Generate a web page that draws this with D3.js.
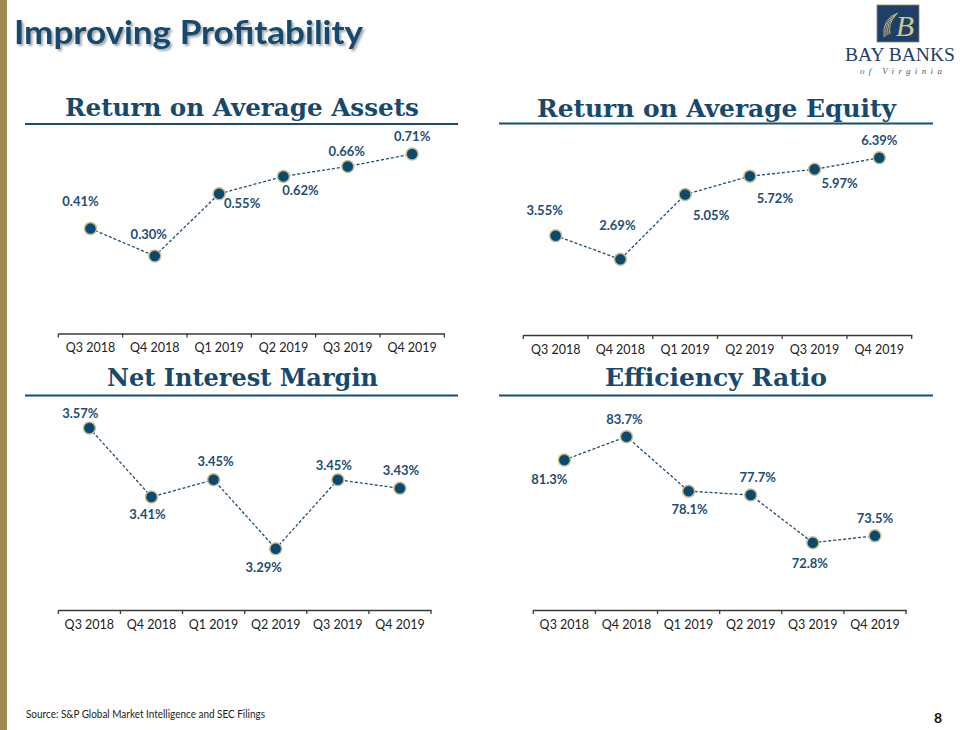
<!DOCTYPE html>
<html>
<head>
<meta charset="utf-8">
<script src="https://cdn.jsdelivr.net/npm/d3@7/dist/d3.min.js"></script>
<style>
  html, body { margin: 0; padding: 0; background: #fff; }
  svg { display: block; }
</style>
</head>
<body>
<svg id="chart" width="960" height="730"></svg>
<script>
// ---------- DATA ----------
const quarters = ["Q3 2018", "Q4 2018", "Q1 2019", "Q2 2019", "Q3 2019", "Q4 2019"];
const roaaValues = [0.41, 0.30, 0.55, 0.62, 0.66, 0.71];
const roaeValues = [3.55, 2.69, 5.05, 5.72, 5.97, 6.39];
const nimValues = [3.57, 3.41, 3.45, 3.29, 3.45, 3.43];
const efficiencyValues = [81.3, 83.7, 78.1, 77.7, 72.8, 73.5];
const panelTitles = ["Return on Average Assets", "Return on Average Equity", "Net Interest Margin", "Efficiency Ratio"];

// ---------- LAYOUT ----------
const C = {
  navy: "#0e4467",
  title: "#17496e",
  label: "#1d4e74",
  gold: "#9d8a4e",
  marker: "#0b4a6f",
  markerStroke: "#cbbd8f"
};

const panels = [
  { title: panelTitles[0], values: roaaValues, decimals: 2,
    x: [58.3, 444.3], axisY: 333.5, domain: [0, 0.8], range: [330.6, 131.6],
    titleX: [65, 419], titleY: 116, rule: [25, 458], ruleY: 124,
    offsets: [[-10,-28],[-6,-22],[23,9],[17,14],[-1,-15],[0,-18]] },
  { title: panelTitles[1], values: roaeValues, decimals: 2,
    x: [523.3, 911.7], axisY: 335, domain: [0, 7], range: [333.2, 141],
    titleX: [537, 896], titleY: 116.5, rule: [499, 933], ruleY: 123.5,
    offsets: [[-11,-26],[-3,-34],[26,20],[25,22],[25,14],[0,-18]] },
  { title: panelTitles[2], values: nimValues, decimals: 2,
    x: [58.3, 431], axisY: 610, domain: [3.15, 3.6], range: [609, 415.1],
    titleX: [107, 378], titleY: 386, rule: [25, 458], ruleY: 395.5,
    offsets: [[-9,-15],[-4,17],[2,-19],[-12,18],[-4,-15],[1,-18]] },
  { title: panelTitles[3], values: efficiencyValues, decimals: 1,
    x: [533.3, 906], axisY: 610, domain: [66, 86], range: [608.8, 414.3],
    titleX: [605, 827], titleY: 386, rule: [499, 933], ruleY: 395.5,
    offsets: [[-15,19],[-2,-18],[1,18],[7,-18],[-3,20],[0,-18]] }
];

const svg = d3.select("#chart");

// defs: drop shadow for main title
const defs = svg.append("defs");
const f = defs.append("filter").attr("id", "shadow").attr("x", "-5%").attr("y", "-20%").attr("width", "115%").attr("height", "160%");
f.append("feDropShadow").attr("dx", 2).attr("dy", 2).attr("stdDeviation", 1.2)
  .attr("flood-color", "#000").attr("flood-opacity", 0.35);

// left gold bar
svg.append("rect").attr("x", 0).attr("y", 0).attr("width", 7).attr("height", 730).attr("fill", C.gold);

// main title
svg.append("text")
  .attr("x", 14).attr("y", 44)
  .attr("font-family", "Lato, 'Open Sans', sans-serif")
  .attr("font-weight", 700).attr("font-size", 33)
  .attr("textLength", 349).attr("lengthAdjust", "spacingAndGlyphs")
  .attr("fill", C.title).attr("filter", "url(#shadow)")
  .text("Improving Profitability");

// logo
const logo = svg.append("g");
logo.append("rect").attr("x", 877).attr("y", 5).attr("width", 42).attr("height", 37)
  .attr("fill", "#1f3f66").attr("stroke", "#8e8466").attr("stroke-width", 0.8);
[0, 1, 2, 3].forEach(i => {
  logo.append("path")
    .attr("d", `M${884 + i * 2},${37 - i} Q${882 + i * 2},${18 + i * 2} ${898 - i},${13 + i}`)
    .attr("fill", "none").attr("stroke", "#c8b27a").attr("stroke-width", 1);
});
logo.append("text").attr("x", 905).attr("y", 36).attr("text-anchor", "middle")
  .attr("font-family", "'Liberation Serif', serif").attr("font-style", "italic")
  .attr("font-size", 30).attr("fill", "#d6c48f").text("B");
logo.append("text").attr("x", 845).attr("y", 61)
  .attr("font-family", "'Liberation Serif', serif").attr("font-size", 19.5)
  .attr("textLength", 110).attr("lengthAdjust", "spacingAndGlyphs")
  .attr("fill", "#1f3f66").text("BAY BANKS");
logo.append("text").attr("x", 860).attr("y", 74)
  .attr("font-family", "'Liberation Serif', serif").attr("font-style", "italic")
  .attr("font-size", 9).attr("textLength", 82).attr("lengthAdjust", "spacing")
  .attr("fill", "#4a5a70").text("of Virginia");

// panels
panels.forEach(p => {
  const g = svg.append("g");
  const xBand = d3.scaleBand().domain(quarters).range(p.x).padding(0);
  const y = d3.scaleLinear().domain(p.domain).range(p.range);

  // title
  g.append("text")
    .attr("x", p.titleX[0]).attr("y", p.titleY)
    .attr("font-family", "'DejaVu Serif', serif").attr("font-weight", 700).attr("font-size", 25)
    .attr("textLength", p.titleX[1] - p.titleX[0]).attr("lengthAdjust", "spacingAndGlyphs")
    .attr("fill", C.title).text(p.title);
  g.append("line")
    .attr("x1", p.rule[0]).attr("x2", p.rule[1]).attr("y1", p.ruleY).attr("y2", p.ruleY)
    .attr("stroke", "#1b4c6e").attr("stroke-width", 2.2);

  // x axis
  const axis = d3.axisBottom(xBand).tickSize(0).tickPadding(10);
  const ag = g.append("g").attr("transform", `translate(0,${p.axisY})`).call(axis);
  ag.select(".domain").attr("stroke", "#3a3a3a").attr("stroke-width", 1.3);
  ag.selectAll("text")
    .attr("font-family", "Lato, 'Open Sans', sans-serif").attr("font-size", 12.5)
    .attr("fill", "#222");
  const boundaries = d3.range(quarters.length + 1).map(i => p.x[0] + i * xBand.step());
  ag.selectAll("line.bt").data(boundaries).enter().append("line")
    .attr("class", "bt")
    .attr("x1", d => d).attr("x2", d => d).attr("y1", 0).attr("y2", 4)
    .attr("stroke", "#3a3a3a").attr("stroke-width", 1.3);

  const pts = p.values.map((v, i) => ({ q: quarters[i], v, i }));
  const cx = d => xBand(d.q) + xBand.bandwidth() / 2;

  // dashed line
  g.append("path").datum(pts)
    .attr("d", d3.line().x(cx).y(d => y(d.v)))
    .attr("fill", "none").attr("stroke", "#1f4e6e").attr("stroke-width", 1.3)
    .attr("stroke-dasharray", "3,2");

  // markers
  g.selectAll("circle.m").data(pts).enter().append("circle")
    .attr("class", "m")
    .attr("cx", cx).attr("cy", d => y(d.v)).attr("r", 6)
    .attr("fill", C.marker).attr("stroke", C.markerStroke).attr("stroke-width", 1.5);

  // labels
  g.selectAll("text.lbl").data(pts).enter().append("text")
    .attr("class", "lbl")
    .attr("x", d => cx(d) + p.offsets[d.i][0])
    .attr("y", d => y(d.v) + p.offsets[d.i][1])
    .attr("text-anchor", "middle").attr("dominant-baseline", "central")
    .attr("font-family", "Lato, 'Open Sans', sans-serif").attr("font-weight", 700)
    .attr("font-size", 13).attr("fill", C.label)
    .text(d => d.v.toFixed(p.decimals) + "%");
});

// footer
svg.append("text").attr("x", 26).attr("y", 718)
  .attr("font-family", "Lato, 'Open Sans', sans-serif").attr("font-size", 11)
  .attr("textLength", 239).attr("lengthAdjust", "spacingAndGlyphs")
  .attr("fill", "#222").text("Source: S&P Global Market Intelligence and SEC Filings");
svg.append("text").attr("x", 942).attr("y", 723).attr("text-anchor", "end")
  .attr("font-family", "Lato, 'Open Sans', sans-serif").attr("font-weight", 700).attr("font-size", 14)
  .attr("fill", "#111").text("8");
</script>
</body>
</html>
